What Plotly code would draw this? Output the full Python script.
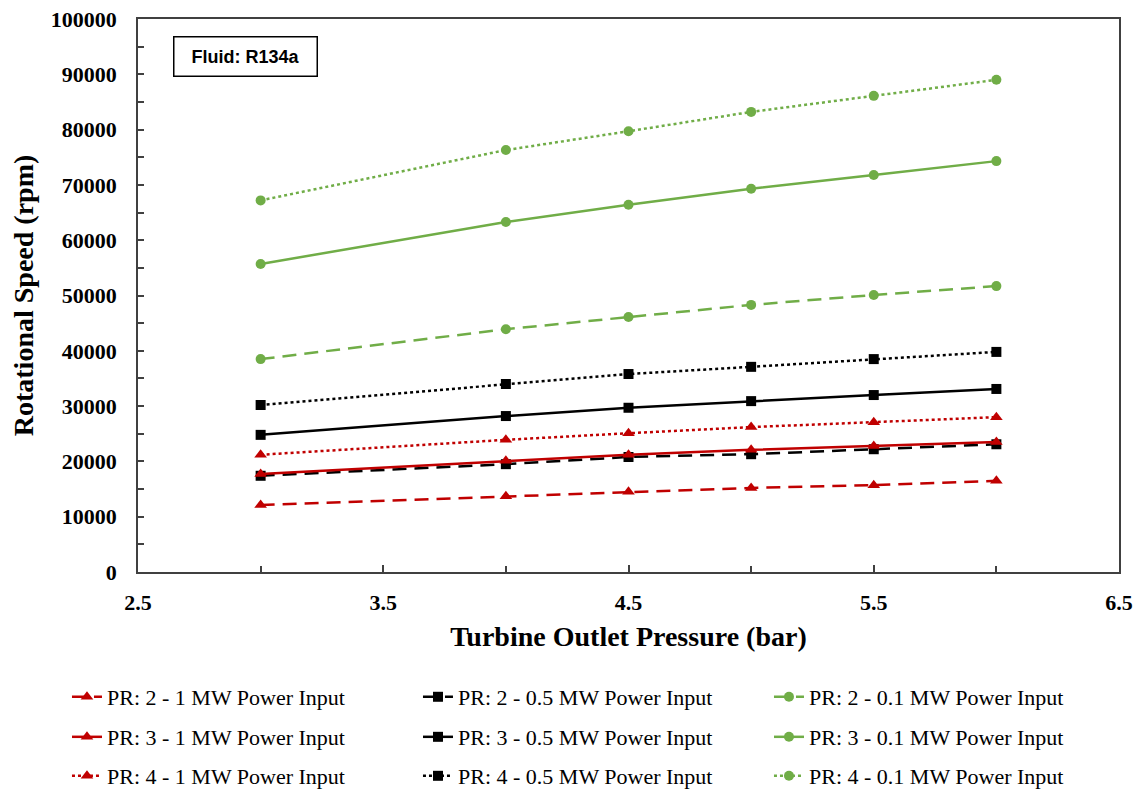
import plotly.graph_objects as go

pressure = [3, 4, 4.5, 5, 5.5, 6]

pr2_1mw = [12100, 13700, 14500, 15200, 15700, 16500]
pr2_05mw = [17400, 19500, 20800, 21300, 22200, 23100]
pr2_01mw = [38500, 43900, 46100, 48300, 50100, 51700]
pr3_1mw = [17700, 20100, 21200, 22100, 22800, 23500]
pr3_05mw = [24800, 28200, 29700, 30900, 32000, 33100]
pr3_01mw = [55700, 63300, 66400, 69300, 71800, 74300]
pr4_1mw = [21200, 23900, 25100, 26200, 27100, 28000]
pr4_05mw = [30200, 34000, 35800, 37100, 38500, 39800]
pr4_01mw = [67200, 76300, 79700, 83200, 86100, 89000]

names = [
    "PR: 2 - 1 MW Power Input", "PR: 2 - 0.5 MW Power Input", "PR: 2 - 0.1 MW Power Input",
    "PR: 3 - 1 MW Power Input", "PR: 3 - 0.5 MW Power Input", "PR: 3 - 0.1 MW Power Input",
    "PR: 4 - 1 MW Power Input", "PR: 4 - 0.5 MW Power Input", "PR: 4 - 0.1 MW Power Input",
]
series = [pr2_1mw, pr2_05mw, pr2_01mw, pr3_1mw, pr3_05mw, pr3_01mw, pr4_1mw, pr4_05mw, pr4_01mw]

RED, BLACK, GREEN = "#C00000", "#000000", "#70AD47"
colors = [RED, BLACK, GREEN] * 3
symbols = ["triangle-up", "square", "circle"] * 3
dashes = ["14px,8px"] * 3 + ["solid"] * 3 + ["3px,3px"] * 3
legends = ["legend"] * 3 + ["legend2"] * 3 + ["legend3"] * 3

fig = go.Figure()
for name, ys, c, s, d, lg in zip(names, series, colors, symbols, dashes, legends):
    fig.add_trace(go.Scatter(
        x=pressure, y=ys, name=name, mode="lines+markers",
        line=dict(color=c, width=2.5, dash=d),
        marker=dict(color=c, symbol=s, size=10 if s != "triangle-up" else 11),
        legend=lg,
    ))

serif = "Liberation Serif, Times New Roman, serif"
axis_col = "#404040"

leg_common = dict(orientation="h", font=dict(family=serif, size=22, color="#000000"),
                  entrywidth=306, entrywidthmode="pixels", xanchor="left", yanchor="middle",
                  x=-0.0724, bgcolor="rgba(0,0,0,0)")

fig.update_layout(
    width=1146, height=792,
    margin=dict(l=130, r=35, t=11, b=228, autoexpand=False),
    paper_bgcolor="white", plot_bgcolor="white",
    showlegend=True,
    legend=dict(**leg_common, y=-0.226),
    legend2=dict(**leg_common, y=-0.2984),
    legend3=dict(**leg_common, y=-0.3689),
    xaxis=dict(
        range=[2.5, 6.5], dtick=1, tick0=2.5, showgrid=False, zeroline=False, automargin=False,
        showline=True, linecolor=axis_col, linewidth=1.5, mirror=True,
        ticks="inside", ticklen=7, tickwidth=1.5, tickcolor=axis_col,
        minor=dict(dtick=0.5, ticks="inside", ticklen=6, tickwidth=1.5, tickcolor=axis_col),
        tickfont=dict(family=serif, size=22, color="#000000", weight="bold"),
        tickformat=".1f", ticklabelstandoff=10, ticklabeloverflow="allow",
        title=dict(text="<b>Turbine Outlet Pressure (bar)</b>", font=dict(family=serif, size=28, color="#000000"), standoff=12),
    ),
    yaxis=dict(
        range=[0, 100000], dtick=10000, showgrid=False, zeroline=False, automargin=False,
        showline=True, linecolor=axis_col, linewidth=1.5, mirror=True,
        ticks="inside", ticklen=6, tickwidth=1.5, tickcolor=axis_col,
        minor=dict(dtick=5000, ticks="inside", ticklen=6, tickwidth=1.5, tickcolor=axis_col),
        tickfont=dict(family=serif, size=22, color="#000000", weight="bold"),
        tickformat="d", ticklabelstandoff=15, ticklabeloverflow="allow",
        title=dict(text="<b>Rotational Speed (rpm)</b>", font=dict(family=serif, size=28, color="#000000"), standoff=12),
    ),
    annotations=[dict(
        text="<b>Fluid: R134a</b>", xref="paper", yref="paper", x=0.0357, y=0.969,
        xanchor="left", yanchor="top", showarrow=False,
        font=dict(family="Liberation Sans, Arial, sans-serif", size=18, color="#000000"),
        width=128, height=24, align="center",
        bordercolor="#000000", borderwidth=1.5, borderpad=7, bgcolor="white",
    )],
)

fig.write_html("out.html")
